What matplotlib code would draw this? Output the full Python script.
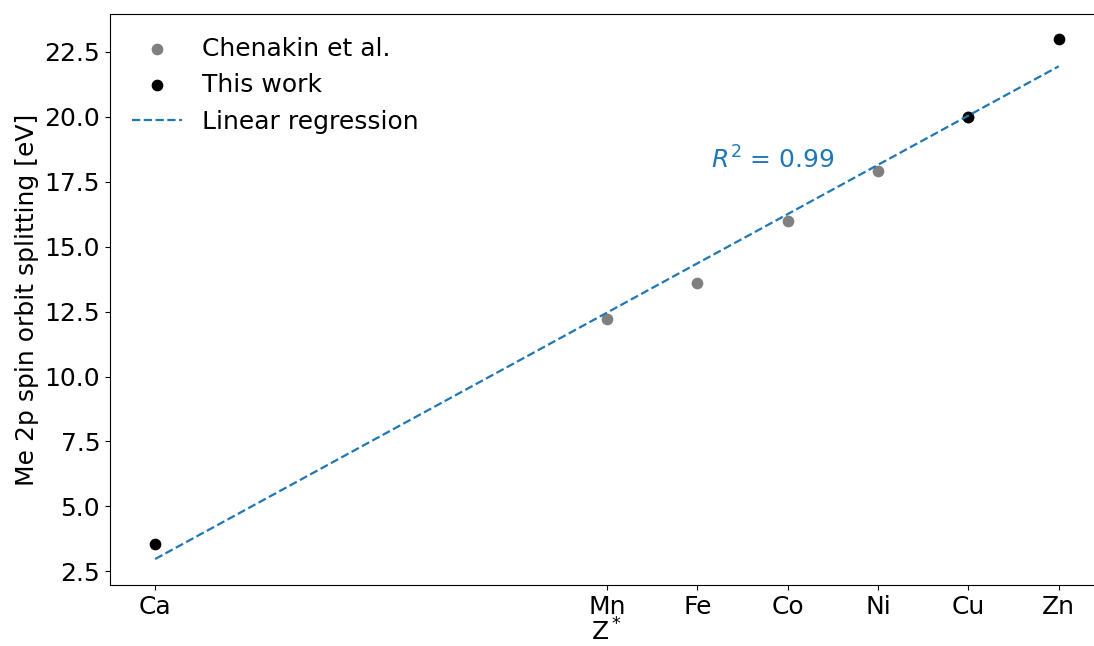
import numpy as np
import matplotlib.pyplot as plt

# Element labels and atomic numbers on the x axis
elements = ["Ca", "Mn", "Fe", "Co", "Ni", "Cu", "Zn"]
atomic_numbers = [20, 25, 26, 27, 28, 29, 30]

# Me 2p spin orbit splitting [eV]
chenakin_z = [25, 26, 27, 28, 29]
chenakin_split = [12.2, 13.6, 16.0, 17.9, 20.0]
this_z = [20, 29, 30]
this_split = [3.54, 20.0, 23.0]

plt.rcParams["font.size"] = 18

fig = plt.figure(figsize=(10.94, 6.46), dpi=100)
ax = fig.add_axes([0.1005, 0.0944, 0.9086, 0.8839])

ax.scatter(chenakin_z, chenakin_split, color="gray", s=55, label="Chenakin et al.")
ax.scatter(this_z, this_split, color="black", s=55, label="This work")

# linear fit over all points
z_all = np.array(chenakin_z + this_z)
s_all = np.array(chenakin_split + this_split)
slope, intercept = np.polyfit(z_all, s_all, 1)
z_fit = np.linspace(min(z_all), max(z_all), 50)
ax.plot(z_fit, slope * z_fit + intercept, "--", color="C0", lw=1.6, label="Linear regression")

ax.text(26.15, 18.35, "$R^2$ = 0.99", color="C0", ha="left", va="center")

ax.set_xticks(atomic_numbers)
ax.set_xticklabels(elements)
ax.set_xlim(19.5, 30.5)
ax.set_ylim(1.97, 23.96)
ax.set_xlabel("Z$^*$", labelpad=0)
ax.set_ylabel("Me 2p spin orbit splitting [eV]")
ax.legend(loc="upper left", frameon=False)

fig.savefig("out.png", dpi=100)
